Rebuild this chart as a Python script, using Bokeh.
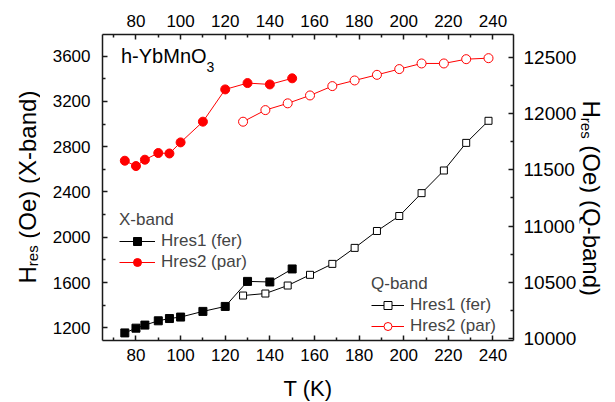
import math
from bokeh.plotting import figure
from bokeh.layouts import row
from bokeh.models import Range1d, LinearAxis, FixedTicker, Legend, LegendItem, Label
from bokeh.embed import file_html
from bokeh.resources import INLINE

# ---------------- data ----------------
T_x = [75, 80, 84, 90, 95, 100, 110, 120, 130, 140, 150]
Hres1_x = [1155, 1197, 1224, 1262, 1282, 1295, 1345, 1389, 1610, 1605, 1720]
Hres2_x = [2676, 2629, 2685, 2744, 2740, 2838, 3021, 3306, 3362, 3350, 3404]

T_q = [128, 138, 148, 158, 168, 178, 188, 198, 208, 218, 228, 238]
Hres1_q = [10384, 10402, 10473, 10568, 10665, 10807, 10957, 11090, 11293, 11494, 11739, 11935]
Hres2_q = [11927, 12030, 12090, 12160, 12243, 12293, 12343, 12394, 12444, 12444, 12482, 12491]

x_ticks = [80, 100, 120, 140, 160, 180, 200, 220, 240]
x_minor = [70, 90, 110, 130, 150, 170, 190, 210, 230, 250]
yl_ticks = [1200, 1600, 2000, 2400, 2800, 3200, 3600]
yl_minor = [1400, 1800, 2200, 2600, 3000, 3400]
yr_ticks = [10000, 10500, 11000, 11500, 12000, 12500]
yr_minor = [10250, 10750, 11250, 11750, 12250]

X0, X1 = 65.0, 249.2
YL0, YL1 = 1088, 3791
YR0, YR1 = 9985, 12701

# ---------------- layout ----------------
W, H = 615, 402
WL, WR = 40, 36                 # side strips holding the rotated axis titles
FL, FT, FW, FH = 102, 34, 411, 306
FB = H - FT - FH
PW = W - WL - WR
FONT = "Liberation Sans"


def dx(px):
    return X0 + (px - FL) / FW * (X1 - X0)


def dy(py):
    return YL1 - (py - FT) / FH * (YL1 - YL0)


p = figure(width=PW, height=H, frame_width=FW, frame_height=FH, title=None,
           x_range=Range1d(X0, X1), y_range=Range1d(YL0, YL1),
           output_backend="svg", toolbar_location=None,
           x_axis_location=None, y_axis_location=None,
           min_border_left=FL - WL, min_border_right=PW - (FL - WL) - FW,
           min_border_top=FT, min_border_bottom=FB)
p.extra_y_ranges = {"q": Range1d(YR0, YR1)}
p.grid.visible = False
p.outline_line_color = None
p.background_fill_color = "white"
p.border_fill_color = "white"


def style(ax, size="17px", standoff=8):
    ax.axis_line_width = 1.5
    ax.axis_line_color = "#1a1a1a"
    ax.major_tick_in = 5
    ax.major_tick_out = 0
    ax.minor_tick_in = 3
    ax.minor_tick_out = 0
    ax.major_tick_line_width = 1.5
    ax.minor_tick_line_width = 1.5
    ax.major_tick_line_color = "#1a1a1a"
    ax.minor_tick_line_color = "#1a1a1a"
    ax.major_label_text_font = FONT
    ax.major_label_text_font_size = size
    ax.major_label_text_color = "black"
    ax.major_label_standoff = standoff
    return ax


bottom = style(LinearAxis(ticker=FixedTicker(ticks=x_ticks, minor_ticks=x_minor)))
bottom.axis_label = "T (K)"
bottom.axis_label_text_font = FONT
bottom.axis_label_text_font_size = "22px"
bottom.axis_label_text_font_style = "normal"
bottom.axis_label_text_color = "black"
bottom.axis_label_standoff = 12
top = style(LinearAxis(ticker=FixedTicker(ticks=x_ticks, minor_ticks=x_minor)))
left = style(LinearAxis(ticker=FixedTicker(ticks=yl_ticks, minor_ticks=yl_minor)), standoff=12)
right = style(LinearAxis(y_range_name="q", ticker=FixedTicker(ticks=yr_ticks, minor_ticks=yr_minor)),
              size="19px", standoff=10)
p.add_layout(bottom, "below")
p.add_layout(top, "above")
p.add_layout(left, "left")
p.add_layout(right, "right")

# ---------------- glyphs ----------------
l1 = p.line(T_x, Hres1_x, line_color="black", line_width=1)
s1 = p.scatter(T_x, Hres1_x, marker="square", size=8, fill_color="black", line_color="black")
l2 = p.line(T_x, Hres2_x, line_color="red", line_width=1)
s2 = p.scatter(T_x, Hres2_x, marker="circle", size=9, fill_color="red", line_color="red")

l3 = p.line(T_q, Hres1_q, line_color="black", line_width=1, y_range_name="q")
s3 = p.scatter(T_q, Hres1_q, marker="square", size=7, fill_color="white", line_color="black",
               line_width=1, y_range_name="q")
l4 = p.line(T_q, Hres2_q, line_color="red", line_width=1, y_range_name="q")
s4 = p.scatter(T_q, Hres2_q, marker="circle", size=9, fill_color="white", line_color="red",
               line_width=1, y_range_name="q")


def mk_legend(title, items, loc, gw):
    return Legend(items=items, title=title, location=loc,
                  background_fill_alpha=0, border_line_color=None,
                  label_text_font=FONT, label_text_font_size="17px",
                  title_text_font=FONT, title_text_font_size="17px",
                  title_text_font_style="normal",
                  glyph_width=gw, glyph_height=20, label_height=20,
                  spacing=1, padding=0, margin=0, label_standoff=6,
                  title_standoff=1)


legX = mk_legend("X-band", [LegendItem(label="Hres1 (fer)", renderers=[l1, s1]),
                            LegendItem(label="Hres2 (par)", renderers=[l2, s2])],
                 (17, 68), 36)
legQ = mk_legend("Q-band", [LegendItem(label="Hres1 (fer)", renderers=[l3, s3]),
                            LegendItem(label="Hres2 (par)", renderers=[l4, s4])],
                 (269, 4), 33)
p.add_layout(legX)
p.add_layout(legQ)

# sample name inside the frame
p.add_layout(Label(x=dx(120.5), y=dy(66.5), text="h-YbMnO", text_font=FONT,
                   text_font_size="20px", text_color="black"))
p.add_layout(Label(x=dx(206.0), y=dy(71.0), text="3", text_font=FONT,
                   text_font_size="14px", text_color="black"))


# ---------------- side strips with rotated axis titles ----------------
# Their frames are aligned with the main frame (rows align frames), so they
# use the same vertical borders; y data = H - screen y.
def strip(width):
    f = figure(width=width, height=H, frame_width=width, frame_height=FH, title=None,
               x_range=Range1d(0, width), y_range=Range1d(H - FT - FH, H - FT),
               output_backend="svg", toolbar_location=None,
               x_axis_location=None, y_axis_location=None,
               min_border=0, min_border_left=0, min_border_right=0,
               min_border_top=FT, min_border_bottom=FB)
    f.grid.visible = False
    f.outline_line_color = None
    f.background_fill_color = "white"
    f.border_fill_color = "white"
    return f


AS = 24   # axis title size
SS = 15   # subscript size


def put(f, text, x, y, size, angle):
    f.add_layout(Label(x=x, y=H - y, text=text, angle=angle, text_font=FONT,
                       text_font_size=f"{size}px", text_color="black",
                       text_align="left", text_baseline="alphabetic"))


fl = strip(WL)
lx, ly = 27.0, 283.0
put(fl, "H", lx, ly, AS, math.pi / 2)
ly -= 0.722 * AS
put(fl, "res", lx + 5, ly, SS, math.pi / 2)
ly -= 1.389 * SS + 0.278 * AS
put(fl, "(Oe) (X-band)", lx, ly, AS, math.pi / 2)

fr = strip(WR)
off = W - WR
rx, ry = 591.0 - off, 100.0
put(fr, "H", rx, ry, AS, -math.pi / 2)
ry += 0.722 * AS
put(fr, "res", rx - 5, ry, SS, -math.pi / 2)
ry += 1.389 * SS + 0.278 * AS
put(fr, "(Oe) (Q-band)", rx, ry, AS, -math.pi / 2)

layout = row(fl, p, fr, spacing=0)
open("out.html", "w").write(file_html(layout, INLINE))
